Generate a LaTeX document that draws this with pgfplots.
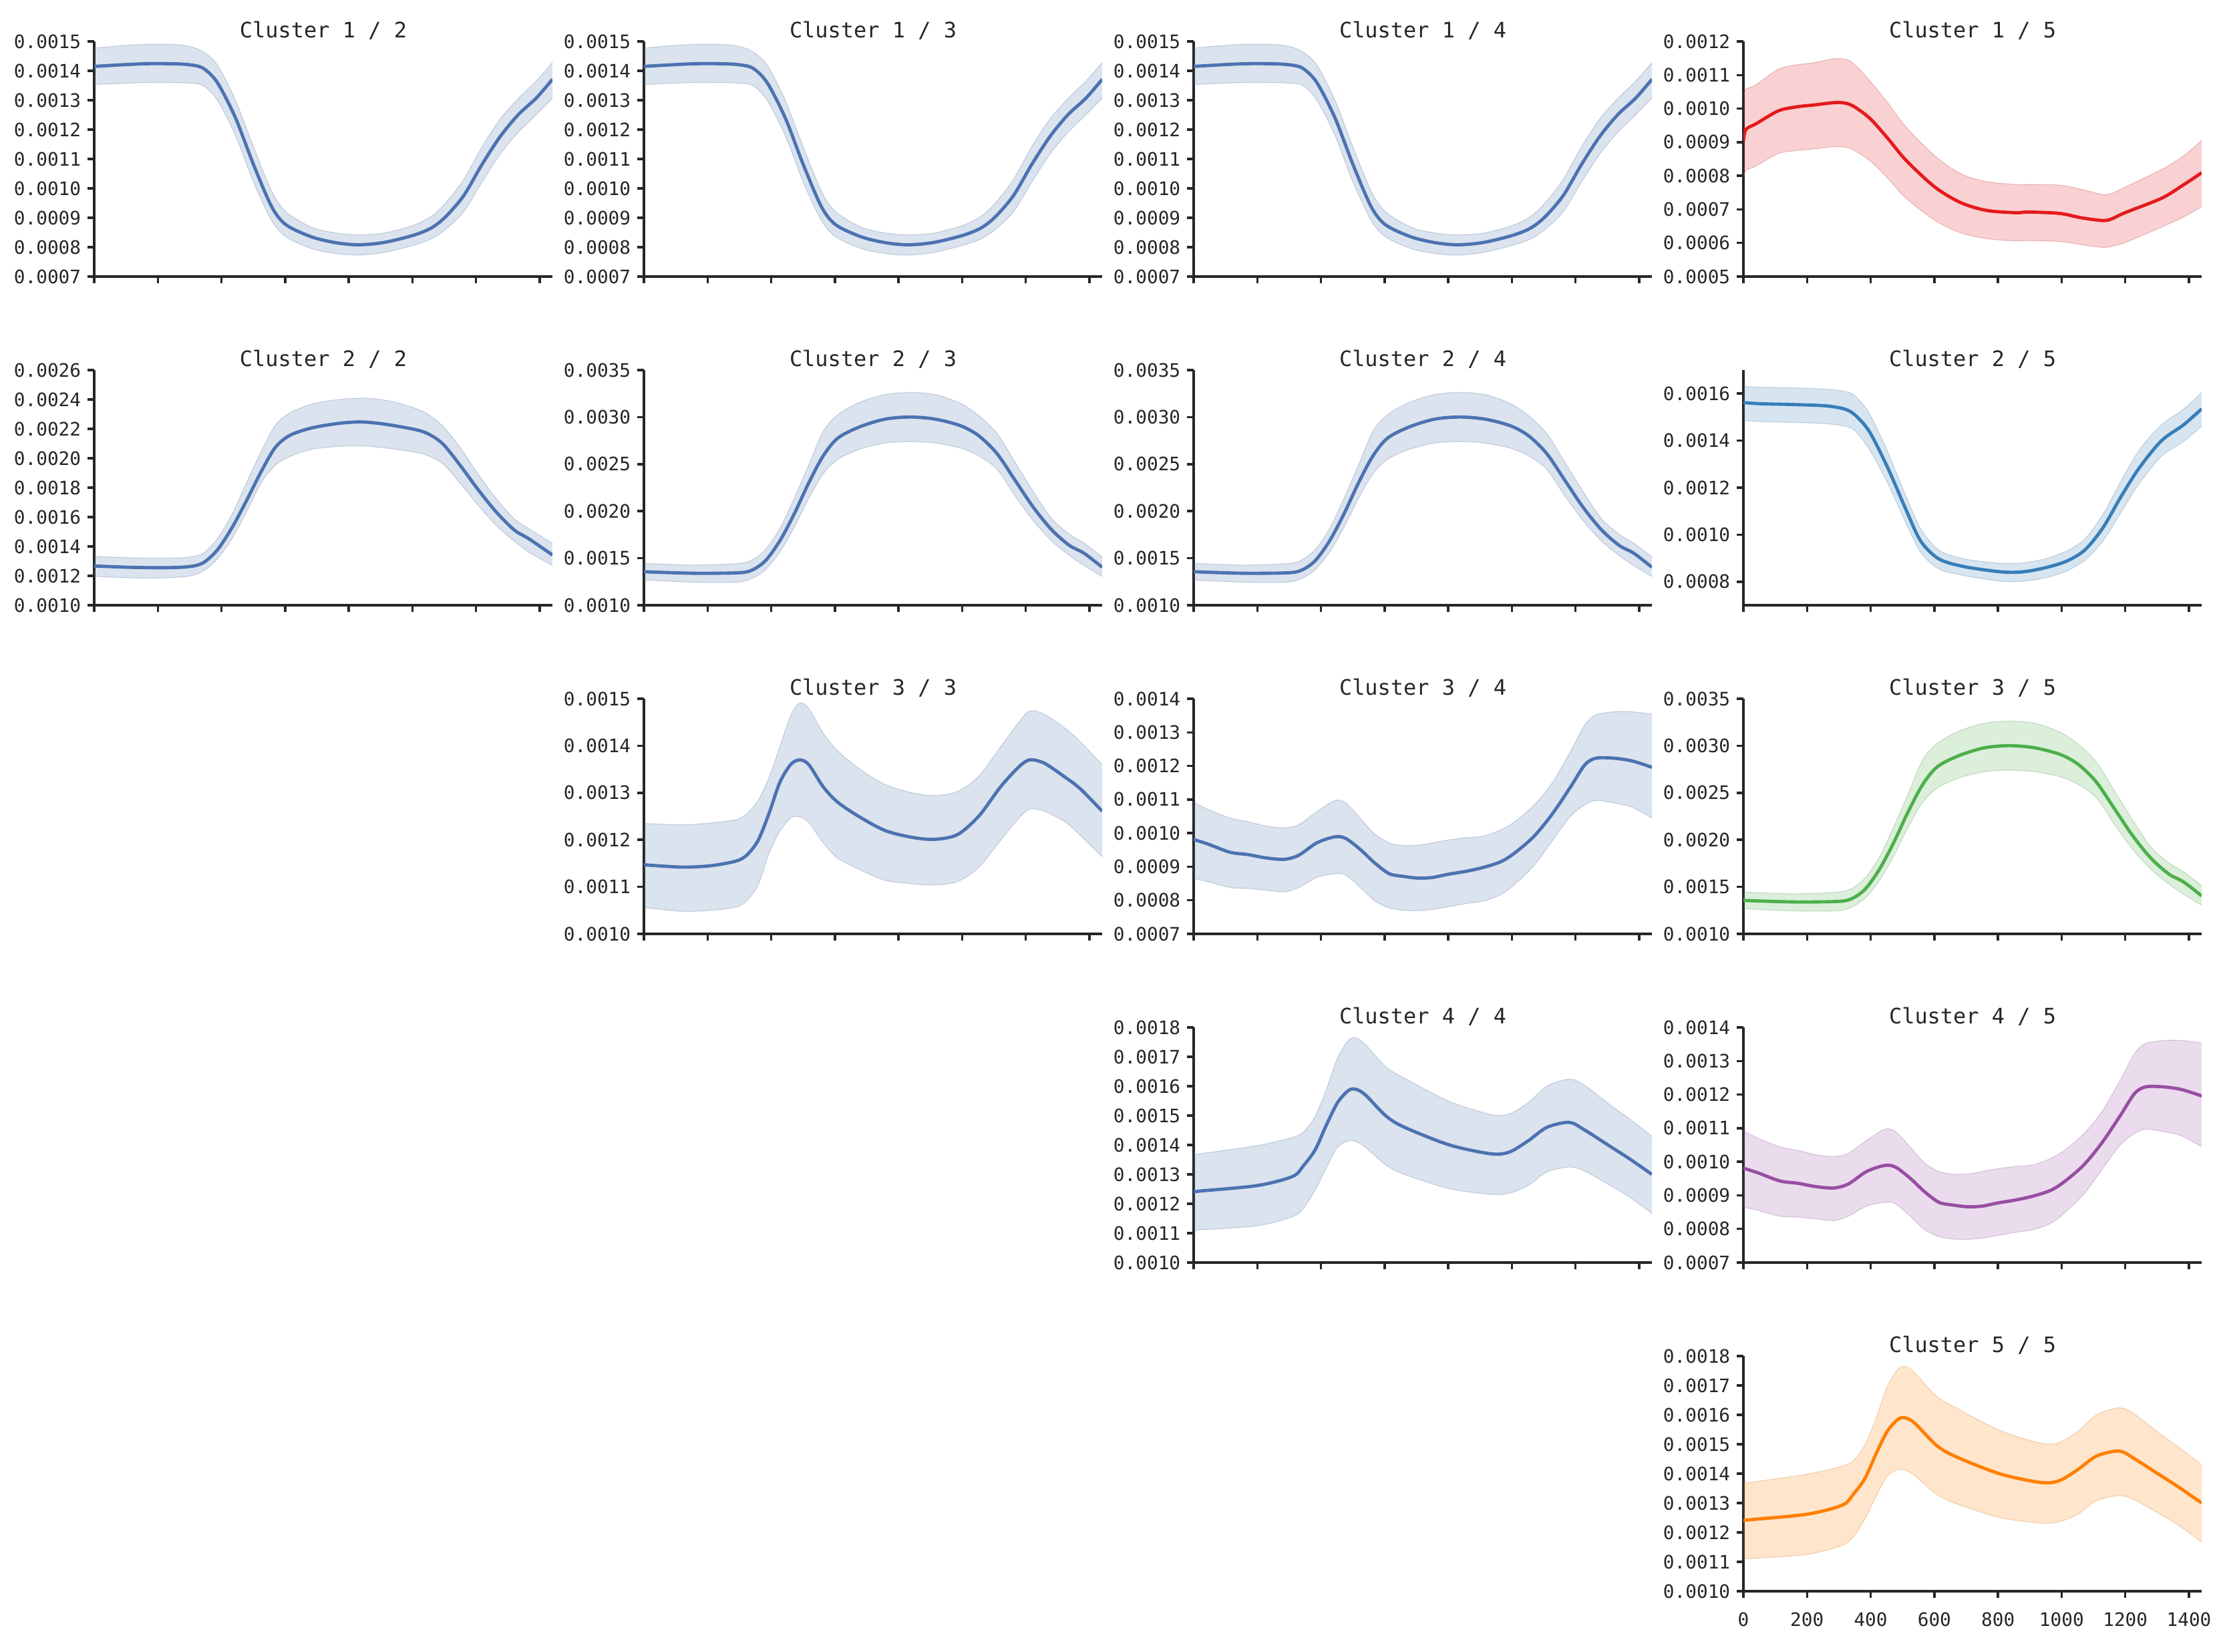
\documentclass[border=0pt]{standalone}
\usepackage{pgfplots}
\pgfplotsset{compat=1.18}
\usepackage{pgfplotstable}
\usepgfplotslibrary{fillbetween}
\usepackage{fontspec}
\setmonofont{DejaVu Sans Mono}
\definecolor{sdeep}{HTML}{4C72B0}
\definecolor{sred}{HTML}{E41A1C}
\definecolor{sblue}{HTML}{377EB8}
\definecolor{sgreen}{HTML}{4DAF4A}
\definecolor{spurple}{HTML}{984EA3}
\definecolor{sorange}{HTML}{FF7F00}
\definecolor{spine}{HTML}{262626}

% A: cluster 1/2 (also 1/3, 1/4)
\pgfplotstableread{
x m lo hi
0 0.001415 0.001353 0.001477
80 0.001420 0.001357 0.001485
160 0.001424 0.001360 0.001490
240 0.001424 0.001360 0.001490
296 0.001421 0.001358 0.001484
342 0.001409 0.001350 0.001465
387 0.001360 0.001300 0.001420
444 0.001240 0.001180 0.001300
501 0.001080 0.001020 0.001140
558 0.000937 0.000890 0.000990
603 0.000876 0.000835 0.000920
683 0.000835 0.000795 0.000868
760 0.000815 0.000778 0.000848
831 0.000808 0.000773 0.000842
911 0.000816 0.000782 0.000848
1002 0.000840 0.000806 0.000874
1059 0.000865 0.000828 0.000905
1104 0.000903 0.000860 0.000950
1161 0.000975 0.000920 0.001030
1218 0.001080 0.001020 0.001140
1275 0.001175 0.001115 0.001235
1332 0.001250 0.001190 0.001305
1389 0.001307 0.001250 0.001365
1440 0.001371 0.001307 0.001428
}\tA

% B: cluster 2/2
\pgfplotstableread{
x m lo hi
0 0.001267 0.001197 0.001333
114 0.001258 0.001186 0.001323
216 0.001255 0.001186 0.001320
296 0.001262 0.001197 0.001327
342 0.001288 0.001232 0.001353
387 0.001376 0.001315 0.001452
433 0.001527 0.001452 0.001618
478 0.001709 0.001633 0.001830
524 0.001906 0.001830 0.002042
569 0.002073 0.001952 0.002224
615 0.002156 0.002012 0.002308
683 0.002206 0.002061 0.002368
763 0.002236 0.002080 0.002398
831 0.002247 0.002085 0.002409
888 0.002239 0.002076 0.002403
956 0.002217 0.002058 0.002376
1036 0.002179 0.002027 0.002315
1093 0.002103 0.001967 0.002224
1150 0.001952 0.001830 0.002073
1207 0.001785 0.001679 0.001891
1264 0.001633 0.001542 0.001724
1320 0.001512 0.001436 0.001588
1366 0.001452 0.001361 0.001520
1440 0.001342 0.001270 0.001421
}\tB

% C: cluster 2/3 (also 2/4, 3/5)
\pgfplotstableread{
x m lo hi
0 0.001356 0.001268 0.001446
154 0.001340 0.001245 0.001427
290 0.001344 0.001245 0.001442
336 0.001368 0.001280 0.001475
381 0.001470 0.001375 0.001589
427 0.001684 0.001565 0.001814
472 0.001969 0.001826 0.002135
518 0.002301 0.002135 0.002491
563 0.002586 0.002396 0.002847
609 0.002776 0.002550 0.003025
677 0.002895 0.002657 0.003156
757 0.002978 0.002724 0.003239
837 0.003001 0.002740 0.003262
916 0.002978 0.002724 0.003239
996 0.002907 0.002669 0.003144
1053 0.002800 0.002586 0.003013
1110 0.002610 0.002444 0.002824
1167 0.002325 0.002159 0.002515
1224 0.002040 0.001897 0.002206
1281 0.001803 0.001684 0.001921
1337 0.001636 0.001529 0.001755
1383 0.001553 0.001423 0.001660
1440 0.001404 0.001304 0.001513
}\tC

% D: cluster 3/3
\pgfplotstableread{
x m lo hi
0 0.001147 0.001056 0.001235
120 0.001142 0.001048 0.001232
211 0.001145 0.001050 0.001236
290 0.001155 0.001057 0.001243
324 0.001168 0.001071 0.001256
359 0.001199 0.001104 0.001284
393 0.001256 0.001171 0.001332
427 0.001322 0.001218 0.001398
461 0.001360 0.001246 0.001464
489 0.001370 0.001249 0.001491
518 0.001360 0.001237 0.001479
563 0.001313 0.001194 0.001427
609 0.001280 0.001161 0.001389
677 0.001249 0.001137 0.001351
757 0.001220 0.001114 0.001318
837 0.001206 0.001107 0.001301
911 0.001201 0.001104 0.001294
985 0.001211 0.001111 0.001303
1053 0.001251 0.001142 0.001336
1121 0.001313 0.001199 0.001398
1178 0.001355 0.001246 0.001450
1212 0.001370 0.001265 0.001474
1258 0.001363 0.001261 0.001467
1326 0.001332 0.001237 0.001436
1372 0.001308 0.001209 0.001408
1440 0.001261 0.001164 0.001360
}\tD

% E: cluster 3/4 (also 4/5)
\pgfplotstableread{
x m lo hi
0 0.000981 0.000865 0.001092
46 0.000967 0.000855 0.001070
114 0.000943 0.000838 0.001045
171 0.000936 0.000835 0.001034
228 0.000926 0.000830 0.001021
285 0.000922 0.000825 0.001016
330 0.000934 0.000838 0.001025
387 0.000971 0.000868 0.001064
444 0.000989 0.000879 0.001097
478 0.000984 0.000875 0.001090
524 0.000951 0.000838 0.001044
569 0.000911 0.000798 0.000997
615 0.000879 0.000777 0.000971
660 0.000871 0.000770 0.000963
706 0.000866 0.000769 0.000964
751 0.000868 0.000773 0.000971
797 0.000877 0.000780 0.000979
854 0.000886 0.000790 0.000986
911 0.000898 0.000798 0.000991
968 0.000916 0.000818 0.001011
1013 0.000944 0.000851 0.001037
1070 0.000991 0.000904 0.001084
1127 0.001057 0.000977 0.001150
1184 0.001137 0.001050 0.001243
1229 0.001203 0.001084 0.001322
1264 0.001223 0.001097 0.001352
1320 0.001223 0.001090 0.001361
1377 0.001215 0.001077 0.001361
1440 0.001196 0.001045 0.001354
}\tE

% F: cluster 4/4 (also 5/5)
\pgfplotstableread{
x m lo hi
0 0.001240 0.001110 0.001369
18 0.001243 0.001111 0.001370
200 0.001262 0.001125 0.001398
311 0.001293 0.001156 0.001426
346 0.001331 0.001186 0.001445
382 0.001384 0.001247 0.001498
417 0.001468 0.001323 0.001589
452 0.001544 0.001392 0.001696
487 0.001586 0.001414 0.001757
511 0.001589 0.001411 0.001764
540 0.001570 0.001392 0.001741
605 0.001498 0.001331 0.001665
663 0.001460 0.001300 0.001627
804 0.001400 0.001251 0.001548
934 0.001370 0.001232 0.001504
992 0.001376 0.001236 0.001506
1051 0.001414 0.001262 0.001544
1110 0.001460 0.001308 0.001600
1180 0.001477 0.001325 0.001624
1227 0.001452 0.001312 0.001604
1309 0.001395 0.001262 0.001536
1368 0.001354 0.001224 0.001490
1440 0.001300 0.001167 0.001430
}\tF

% G: cluster 1/5
\pgfplotstableread{
x m lo hi
0 0.000904 0.000793 0.001038
8 0.000938 0.000816 0.001058
40 0.000955 0.000829 0.001071
109 0.000993 0.000866 0.001117
166 0.001005 0.000875 0.001130
224 0.001011 0.000880 0.001137
293 0.001018 0.000887 0.001149
338 0.001011 0.000880 0.001140
396 0.000972 0.000846 0.001084
453 0.000912 0.000793 0.001018
511 0.000846 0.000733 0.000945
602 0.000766 0.000667 0.000859
683 0.000720 0.000630 0.000806
763 0.000697 0.000613 0.000783
855 0.000690 0.000606 0.000774
895 0.000692 0.000607 0.000774
993 0.000688 0.000604 0.000772
1061 0.000675 0.000595 0.000760
1124 0.000667 0.000587 0.000745
1153 0.000670 0.000589 0.000746
1199 0.000690 0.000601 0.000766
1314 0.000733 0.000647 0.000819
1383 0.000773 0.000677 0.000859
1440 0.000809 0.000708 0.000905
}\tG

% H: cluster 2/5
\pgfplotstableread{
x m lo hi
0 0.001562 0.001486 0.001630
52 0.001557 0.001481 0.001627
166 0.001553 0.001477 0.001624
258 0.001548 0.001472 0.001619
316 0.001535 0.001462 0.001610
350 0.001510 0.001443 0.001591
396 0.001438 0.001362 0.001515
453 0.001286 0.001220 0.001353
511 0.001106 0.001049 0.001163
557 0.000973 0.000925 0.001025
614 0.000897 0.000854 0.000935
694 0.000864 0.000826 0.000897
809 0.000842 0.000802 0.000878
878 0.000842 0.000802 0.000880
947 0.000859 0.000816 0.000897
1015 0.000887 0.000845 0.000930
1073 0.000935 0.000892 0.000982
1130 0.001030 0.000973 0.001087
1187 0.001163 0.001096 0.001229
1245 0.001286 0.001220 0.001362
1314 0.001400 0.001334 0.001467
1383 0.001467 0.001396 0.001533
1440 0.001535 0.001462 0.001605
}\tH

\pgfplotsset{
  panel/.style={
    scale only axis, width=246.96pt, height=126.72pt,
    anchor=north west,
    axis x line*=bottom, axis y line*=left,
    axis line style={-, line width=1.25pt, color=spine},
    xmin=0, xmax=1440, xtick={0,200,400,600,800,1000,1200,1400},
    xticklabels={},
    tick align=outside, tick pos=left,
    major tick length=3.6pt,
    every tick/.style={line width=1.25pt, color=spine},
    tick label style={font=\ttfamily\fontsize{10}{12}\selectfont, color=spine},
    /pgf/number format/assume math mode=true,
    yticklabel style={/pgf/number format/fixed, /pgf/number format/fixed zerofill, /pgf/number format/precision=4},
    xticklabel style={/pgf/number format/1000 sep={}},
    scaled y ticks=false, scaled x ticks=false,
    title style={font=\ttfamily\fontsize{11.5}{14}\selectfont, color=spine, yshift=-8.5pt},
  },
}

\newcommand\panel[6]{%
\begin{axis}[panel, at={(#1*0.36pt,-#2*0.36pt)}, title={#3}, #6]
\addplot[name path=hi, draw=#5!60!gray, draw opacity=0.3, line width=0.4pt, smooth, tension=0.5] table[x=x,y=hi]{#4};
\addplot[name path=lo, draw=#5!60!gray, draw opacity=0.3, line width=0.4pt, smooth, tension=0.5] table[x=x,y=lo]{#4};
\addplot[fill=#5, fill opacity=0.2, draw=none] fill between[of=hi and lo];
\addplot[#5, line width=1.75pt, smooth, tension=0.5] table[x=x,y=m]{#4};
\end{axis}}

\begin{document}
\begin{tikzpicture}
% row 1
\panel{141}{62}{Cluster 1 / 2}{\tA}{sdeep}{ymin=0.0007, ymax=0.0015, ytick={0.0007,0.0008,0.0009,0.0010,0.0011,0.0012,0.0013,0.0014,0.0015}}
\panel{964}{62}{Cluster 1 / 3}{\tA}{sdeep}{ymin=0.0007, ymax=0.0015, ytick={0.0007,0.0008,0.0009,0.0010,0.0011,0.0012,0.0013,0.0014,0.0015}}
\panel{1787}{62}{Cluster 1 / 4}{\tA}{sdeep}{ymin=0.0007, ymax=0.0015, ytick={0.0007,0.0008,0.0009,0.0010,0.0011,0.0012,0.0013,0.0014,0.0015}}
\panel{2610}{62}{Cluster 1 / 5}{\tG}{sred}{ymin=0.0005, ymax=0.0012, ytick={0.0005,0.0006,0.0007,0.0008,0.0009,0.0010,0.0011,0.0012}}
% row 2
\panel{141}{554}{Cluster 2 / 2}{\tB}{sdeep}{ymin=0.0010, ymax=0.0026, ytick={0.0010,0.0012,0.0014,0.0016,0.0018,0.0020,0.0022,0.0024,0.0026}}
\panel{964}{554}{Cluster 2 / 3}{\tC}{sdeep}{ymin=0.0010, ymax=0.0035, ytick={0.0010,0.0015,0.0020,0.0025,0.0030,0.0035}}
\panel{1787}{554}{Cluster 2 / 4}{\tC}{sdeep}{ymin=0.0010, ymax=0.0035, ytick={0.0010,0.0015,0.0020,0.0025,0.0030,0.0035}}
\panel{2610}{554}{Cluster 2 / 5}{\tH}{sblue}{ymin=0.0007, ymax=0.0017, ytick={0.0008,0.0010,0.0012,0.0014,0.0016}}
% row 3
\panel{964}{1046}{Cluster 3 / 3}{\tD}{sdeep}{ymin=0.0010, ymax=0.0015, ytick={0.0010,0.0011,0.0012,0.0013,0.0014,0.0015}}
\panel{1787}{1046}{Cluster 3 / 4}{\tE}{sdeep}{ymin=0.0007, ymax=0.0014, ytick={0.0007,0.0008,0.0009,0.0010,0.0011,0.0012,0.0013,0.0014}}
\panel{2610}{1046}{Cluster 3 / 5}{\tC}{sgreen}{ymin=0.0010, ymax=0.0035, ytick={0.0010,0.0015,0.0020,0.0025,0.0030,0.0035}}
% row 4
\panel{1787}{1538}{Cluster 4 / 4}{\tF}{sdeep}{ymin=0.0010, ymax=0.0018, ytick={0.0010,0.0011,0.0012,0.0013,0.0014,0.0015,0.0016,0.0017,0.0018}}
\panel{2610}{1538}{Cluster 4 / 5}{\tE}{spurple}{ymin=0.0007, ymax=0.0014, ytick={0.0007,0.0008,0.0009,0.0010,0.0011,0.0012,0.0013,0.0014}}
% row 5
\panel{2610}{2030}{Cluster 5 / 5}{\tF}{sorange}{ymin=0.0010, ymax=0.0018, ytick={0.0010,0.0011,0.0012,0.0013,0.0014,0.0015,0.0016,0.0017,0.0018}, xticklabels={0,200,400,600,800,1000,1200,1400}, xticklabel style={yshift=-4.5pt}}
\path (0,0) rectangle (1198.08pt,-890.28pt);
\end{tikzpicture}
\end{document}
